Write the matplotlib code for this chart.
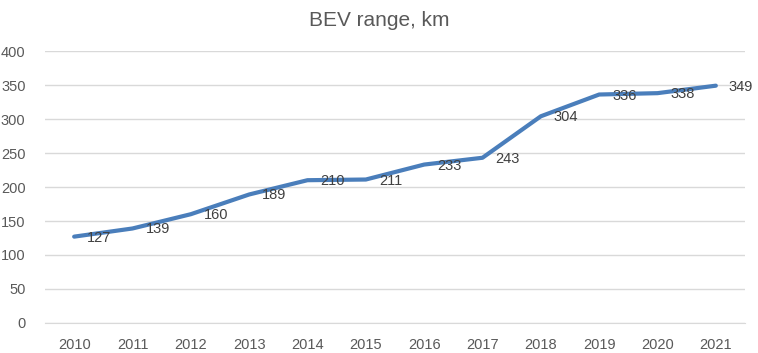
import matplotlib.pyplot as plt

years = ["2010", "2011", "2012", "2013", "2014", "2015",
         "2016", "2017", "2018", "2019", "2020", "2021"]
range_km = [127, 139, 160, 189, 210, 211, 233, 243, 304, 336, 338, 349]

plt.rcParams['font.family'] = ['Liberation Sans', 'DejaVu Sans']

fig = plt.figure(figsize=(7.58, 3.53), dpi=100)
ax = fig.add_axes([45 / 758, 1 - 323 / 353, 700 / 758, 272 / 353])

x = list(range(len(years)))
ax.plot(x, range_km, color='#4A7EBB', linewidth=3, solid_capstyle='round', zorder=3)

for xi, v in zip(x, range_km):
    ax.annotate(str(v), (xi, v), xytext=(13, -1), textcoords='offset pixels',
                ha='left', va='center', fontsize=10.5, color='#404040', zorder=4)

ax.set_xlim(-0.5, len(years) - 0.5)
ax.set_ylim(0, 400)
ax.set_yticks(range(0, 401, 50))
ax.set_xticks(x)
ax.set_xticklabels(years)
ax.grid(axis='y', color='#D9D9D9', linewidth=1)
ax.set_axisbelow(True)
for s in ['top', 'right', 'left']:
    ax.spines[s].set_visible(False)
ax.spines['bottom'].set_color('#D9D9D9')
ax.tick_params(length=0, labelsize=10.5, labelcolor='#595959')
ax.tick_params(axis='x', pad=11)
ax.tick_params(axis='y', pad=14)

fig.suptitle("BEV range, km", y=0.97, fontsize=15, color='#595959')

fig.savefig("out.png", dpi=100)
